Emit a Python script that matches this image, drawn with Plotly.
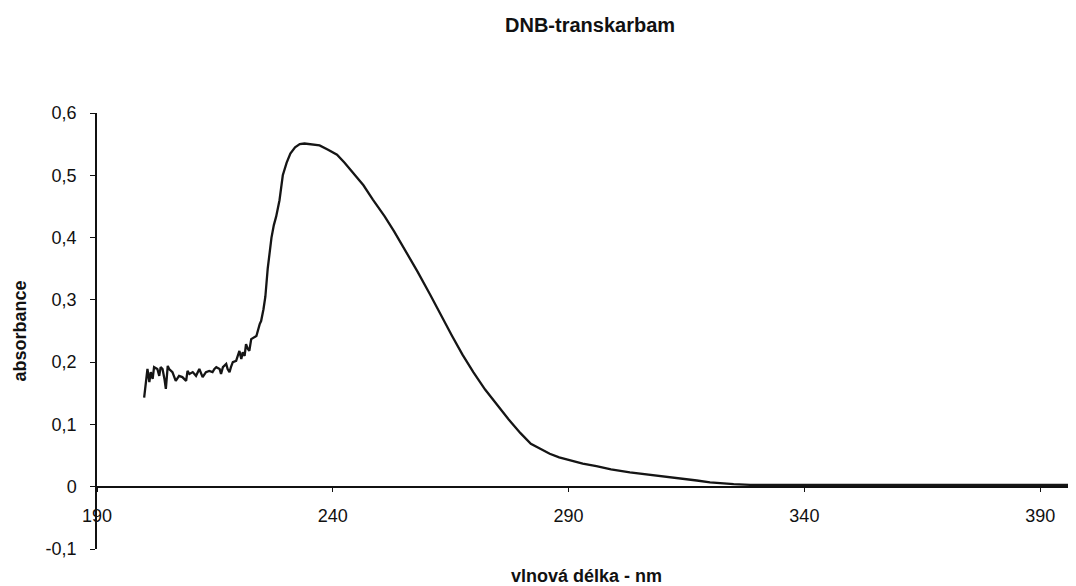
import plotly.graph_objects as go

# ---- data ----
wavelength = [
    200.0, 200.7, 201.1, 201.4, 201.8, 202.1, 202.8, 203.2, 203.5, 203.9,
    204.3, 204.6, 205.0, 205.3, 206.0, 206.4, 206.7, 207.4, 208.1, 208.9,
    209.2, 209.6, 210.3, 211.0, 211.7, 212.4, 212.8, 213.1, 213.8, 214.5,
    214.9, 215.3, 216.0, 216.3, 216.7, 217.4, 217.7, 218.1, 218.4, 218.8,
    219.5, 220.2, 220.6, 220.9, 221.3, 221.6, 222.0, 222.3, 222.7, 223.4,
    223.8, 224.5, 224.8, 225.3, 225.7, 226.2, 226.6, 227.0, 227.5, 228.0,
    228.7, 229.4, 230.2, 231.0, 232.0, 233.0, 234.0, 235.0, 236.0, 237.2,
    239.0, 240.9, 242.5, 244.3, 246.5, 248.5, 251.0, 253.0, 255.3, 258.0,
    260.6, 263.0, 265.3, 267.5, 269.8, 272.3, 274.9, 277.3, 279.8, 282.0,
    284.0, 286.0, 288.0, 290.3, 293.0, 295.9, 299.0, 303.0, 306.5, 310.1,
    314.0, 317.2, 320.0, 322.5, 325.0, 328.5, 335.0, 345.0, 355.0, 365.0,
    375.0, 385.0, 397.6,
]
absorbance = [
    0.143, 0.189, 0.168, 0.184, 0.173, 0.192, 0.189, 0.178, 0.192, 0.189,
    0.173, 0.157, 0.194, 0.189, 0.184, 0.176, 0.170, 0.178, 0.176, 0.170,
    0.186, 0.181, 0.184, 0.178, 0.189, 0.176, 0.181, 0.184, 0.186, 0.184,
    0.189, 0.192, 0.189, 0.181, 0.192, 0.197, 0.189, 0.184, 0.192, 0.200,
    0.202, 0.218, 0.205, 0.216, 0.210, 0.229, 0.221, 0.218, 0.237, 0.240,
    0.242, 0.261, 0.266, 0.285, 0.305, 0.350, 0.375, 0.400, 0.420, 0.434,
    0.460, 0.500, 0.520, 0.535, 0.545, 0.550, 0.551, 0.550, 0.550, 0.548,
    0.541, 0.533, 0.520, 0.504, 0.484, 0.461, 0.434, 0.410, 0.381, 0.345,
    0.309, 0.274, 0.242, 0.212, 0.184, 0.156, 0.130, 0.108, 0.086, 0.069,
    0.061, 0.053, 0.047, 0.042, 0.037, 0.033, 0.028, 0.023, 0.020, 0.016,
    0.013, 0.010, 0.007, 0.005, 0.004, 0.003, 0.003, 0.002, 0.002, 0.002,
    0.002, 0.002, 0.003,
]

x_tick_values = [190, 240, 290, 340, 390]
x_tick_labels = ["190", "240", "290", "340", "390"]
y_tick_values = [-0.1, 0.0, 0.1, 0.2, 0.3, 0.4, 0.5, 0.6]
y_tick_labels = ["-0,1", "0", "0,1", "0,2", "0,3", "0,4", "0,5", "0,6"]

x_range = [190, 397.6]
y_range = [-0.1, 0.6]

title_text = "DNB-transkarbam"
x_title = "vlnová délka - nm"
y_title = "absorbance"

FONT = "Arial, 'Liberation Sans', sans-serif"

fig = go.Figure()
fig.add_trace(go.Scatter(
    x=wavelength, y=absorbance, mode="lines",
    line=dict(color="#151515", width=2.3),
    showlegend=False, hoverinfo="skip",
))

zero_pos = (0 - y_range[0]) / (y_range[1] - y_range[0])

# the page body adds an 8 px offset, so the figure is 8 px smaller each way
fig.update_layout(
    width=1068, height=578,
    margin=dict(l=89, r=0, t=105, b=37),
    paper_bgcolor="white", plot_bgcolor="white",
    font=dict(family=FONT, color="#111111", size=18),
    title=dict(
        text=f"<b>{title_text}</b>",
        x=0.545, xanchor="center", y=0.97, yanchor="middle",
        font=dict(family=FONT, size=20, color="#111111"),
    ),
    xaxis=dict(
        range=x_range, anchor="free", position=zero_pos,
        tickvals=x_tick_values, ticktext=x_tick_labels,
        showline=True, linecolor="#111111", linewidth=1.5,
        ticks="outside", ticklen=5, tickwidth=1.2, tickcolor="#111111",
        ticklabelstandoff=8,
        showgrid=False, zeroline=False, automargin=False,
        tickfont=dict(family=FONT, size=18, color="#111111"),
        title=dict(text=f"<b>{x_title}</b>", standoff=44,
                   font=dict(family=FONT, size=18, color="#111111")),
    ),
    yaxis=dict(
        range=y_range,
        tickvals=y_tick_values, ticktext=y_tick_labels,
        showline=True, linecolor="#111111", linewidth=1.5,
        ticks="outside", ticklen=5, tickwidth=1.2, tickcolor="#111111",
        ticklabelstandoff=10,
        showgrid=False, zeroline=False, automargin=False,
        tickfont=dict(family=FONT, size=18, color="#111111"),
        title=dict(text=f"<b>{y_title}</b>", standoff=14,
                   font=dict(family=FONT, size=18, color="#111111")),
    ),
)

fig.write_html("out.html")
